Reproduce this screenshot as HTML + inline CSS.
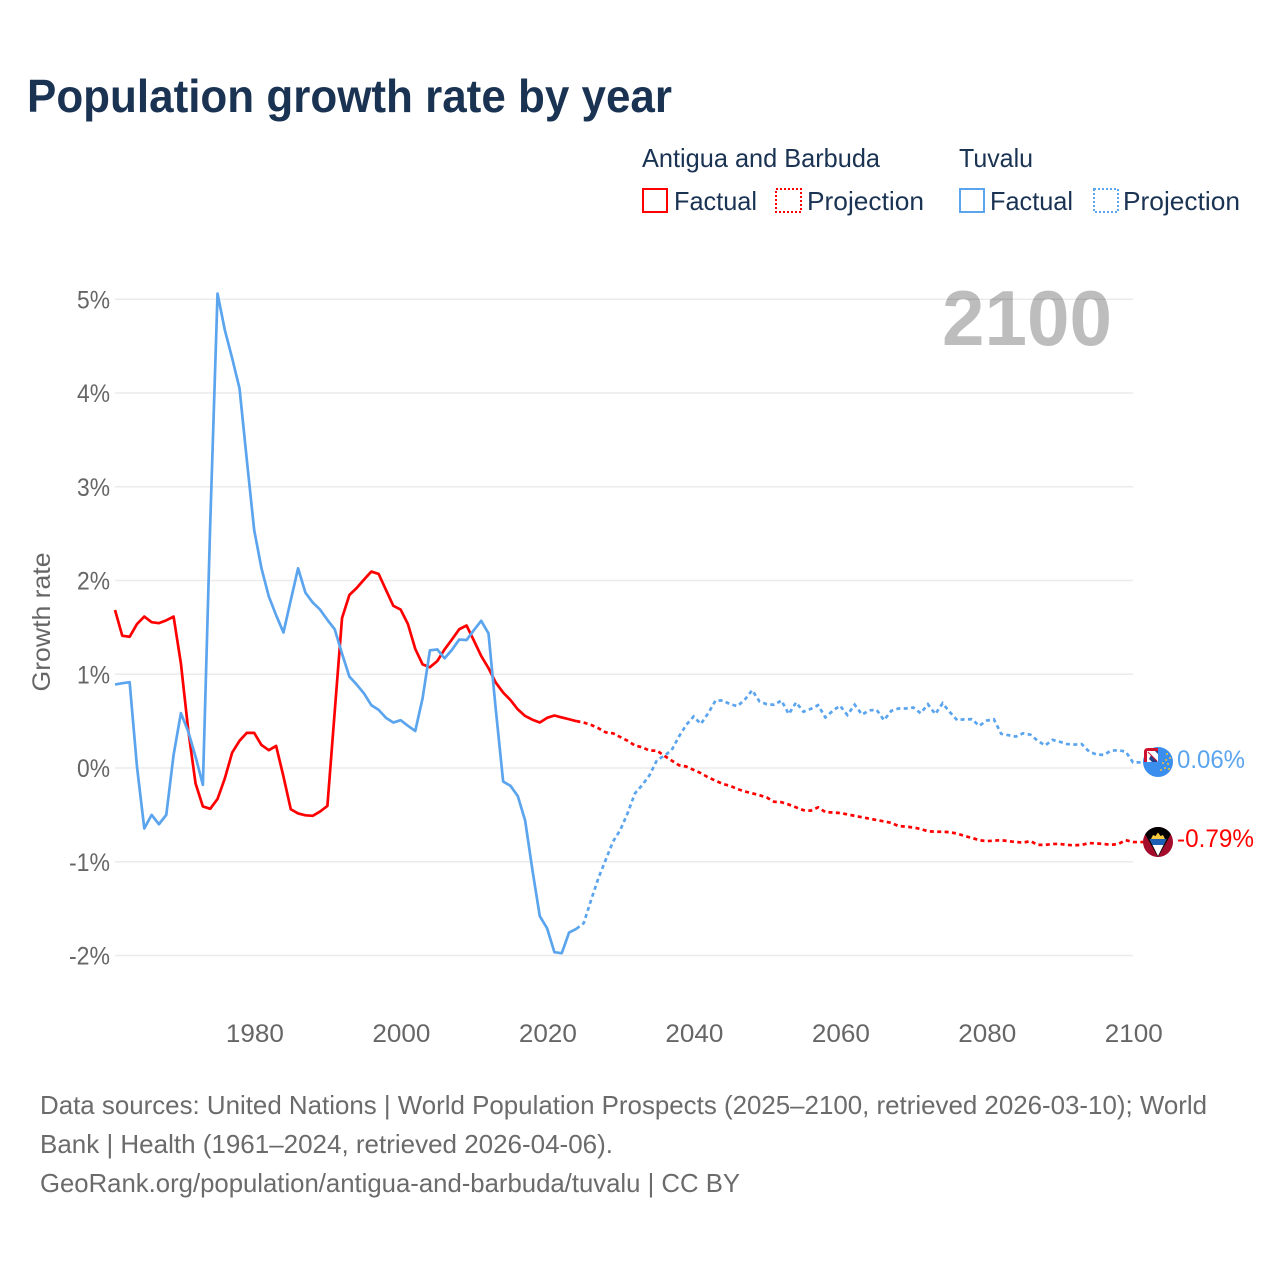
<!DOCTYPE html>
<html lang="en">
<head>
<meta charset="utf-8">
<title>Population growth rate by year</title>
<style>
html,body{margin:0;padding:0;background:#fff;width:1280px;height:1280px;overflow:hidden}
svg{display:block;font-family:"Liberation Sans",sans-serif}
</style>
</head>
<body>
<svg id="chart" xmlns="http://www.w3.org/2000/svg" width="1280" height="1280" viewBox="0 0 1280 1280">
  <defs>
    <clipPath id="clip-tv"><circle cx="1158" cy="762" r="15"/></clipPath>
    <clipPath id="clip-ag"><circle cx="1158" cy="842" r="15"/></clipPath>
  </defs>
  <text x="27" y="112" font-size="46" font-weight="700" fill="#1a3353" textLength="645" lengthAdjust="spacingAndGlyphs">Population growth rate by year</text>

  <g font-size="26" fill="#1a3353">
    <text x="642" y="167" textLength="238" lengthAdjust="spacingAndGlyphs">Antigua and Barbuda</text>
    <text x="959" y="167" textLength="74" lengthAdjust="spacingAndGlyphs">Tuvalu</text>
    <rect x="643" y="189" width="24" height="23" fill="none" stroke="#ff0000" stroke-width="2"/>
    <text x="674" y="210" textLength="83" lengthAdjust="spacingAndGlyphs">Factual</text>
    <rect x="776" y="189" width="25" height="23" fill="none" stroke="#ff0000" stroke-width="2" stroke-dasharray="2 2"/>
    <text x="807" y="210" textLength="117" lengthAdjust="spacingAndGlyphs">Projection</text>
    <rect x="960" y="189" width="24" height="23" fill="none" stroke="#5ba4ee" stroke-width="2"/>
    <text x="990" y="210" textLength="83" lengthAdjust="spacingAndGlyphs">Factual</text>
    <rect x="1094" y="189" width="24" height="23" fill="none" stroke="#5ba4ee" stroke-width="2" stroke-dasharray="2 2"/>
    <text x="1123" y="210" textLength="117" lengthAdjust="spacingAndGlyphs">Projection</text>
  </g>

  <g id="grid"></g>
  <g id="yticks"></g>
  <g id="xticks"></g>

  <text x="942" y="345" font-size="78" font-weight="700" fill="#000000" fill-opacity="0.26" textLength="170" lengthAdjust="spacingAndGlyphs">2100</text>
  <text transform="translate(50,622) rotate(-90)" text-anchor="middle" font-size="25" fill="#666666" textLength="139" lengthAdjust="spacingAndGlyphs">Growth rate</text>

  <g id="series"></g>

  <g>
    <g clip-path="url(#clip-tv)">
      <rect x="1143" y="747" width="30" height="30" fill="#3a8eed"/>
    </g>
    <path d="M1158 762 H1144 V752 Q1144 748 1148 748 H1158 Z" fill="#d0122f"/>
    <rect x="1147" y="751" width="11" height="11" fill="#fff"/>
    <path d="M1151 755 L1158 762 H1152 L1149 759 Z M1155 751 H1158 V754 Z" fill="#27408b"/>
    <path d="M1148 752 L1157 761" stroke="#d0122f" stroke-width="0.9"/>
    <g fill="#f2c230">
      <circle cx="1167" cy="754" r="1"/><circle cx="1170" cy="758" r="1"/><circle cx="1166" cy="760" r="1"/>
      <circle cx="1163" cy="763" r="1"/><circle cx="1168" cy="764" r="1"/><circle cx="1165" cy="768" r="1"/>
      <circle cx="1161" cy="770" r="1"/><circle cx="1169" cy="769" r="1"/>
    </g>
  </g>
  <g clip-path="url(#clip-ag)">
    <rect x="1143" y="827" width="30" height="30" fill="#a40c2c"/>
    <path d="M1141 827 H1175 L1158 857 Z" fill="#000"/>
    <path d="M1149.5 839 H1166.5 L1158 856 Z" fill="#fff"/>
    <path d="M1149.5 839 H1166.5 L1163.5 845 H1152.5 Z" fill="#1d5fb4"/>
    <path d="M1151 839 L1153 835 L1155.5 836 L1158 832.5 L1160.5 836 L1163 835 L1165 839 Z" fill="#f6c840"/>
  </g>
  <text x="1177" y="768" font-size="25" fill="#5ba4ee" textLength="68" lengthAdjust="spacingAndGlyphs">0.06%</text>
  <text x="1177" y="847" font-size="25" fill="#ff0000" textLength="77" lengthAdjust="spacingAndGlyphs">-0.79%</text>

  <g font-size="26" fill="#6b6b6b">
    <text x="40" y="1114" textLength="1167" lengthAdjust="spacingAndGlyphs">Data sources: United Nations | World Population Prospects (2025–2100, retrieved 2026-03-10); World</text>
    <text x="40" y="1153" textLength="573" lengthAdjust="spacingAndGlyphs">Bank | Health (1961–2024, retrieved 2026-04-06).</text>
    <text x="40" y="1192" textLength="700" lengthAdjust="spacingAndGlyphs">GeoRank.org/population/antigua-and-barbuda/tuvalu | CC BY</text>
  </g>
</svg>
<script>
const startYear = 1961;
const lastFactualYear = 2024;
const yTickValues = [5, 4, 3, 2, 1, 0, -1, -2];
const xTickYears = [1980, 2000, 2020, 2040, 2060, 2080, 2100];

const antiguaValues = [
  1.685,1.41,1.40,1.535,1.615,1.555,1.545,1.575,1.615,1.115,
  0.405,-0.165,-0.41,-0.435,-0.33,-0.11,0.165,0.29,0.375,0.375,
  0.245,0.19,0.235,-0.09,-0.44,-0.485,-0.505,-0.51,-0.465,-0.405,
  0.6,1.60,1.845,1.92,2.01,2.095,2.07,1.90,1.73,1.69,
  1.535,1.27,1.105,1.075,1.14,1.265,1.37,1.48,1.52,1.36,
  1.195,1.065,0.91,0.805,0.725,0.625,0.555,0.515,0.485,0.535,
  0.56,0.54,0.52,0.50,
  0.485,0.46,0.425,0.38,0.37,0.33,0.29,0.24,0.22,0.185,
  0.185,0.13,0.08,0.03,0.015,-0.02,-0.055,-0.10,-0.135,-0.17,
  -0.19,-0.225,-0.25,-0.27,-0.29,-0.315,-0.36,-0.365,-0.39,-0.42,
  -0.45,-0.455,-0.42,-0.47,-0.475,-0.48,-0.495,-0.51,-0.525,-0.54,
  -0.555,-0.57,-0.585,-0.62,-0.625,-0.635,-0.65,-0.675,-0.68,-0.68,
  -0.685,-0.70,-0.725,-0.745,-0.77,-0.78,-0.775,-0.77,-0.78,-0.79,
  -0.795,-0.78,-0.82,-0.82,-0.81,-0.81,-0.82,-0.825,-0.82,-0.80,
  -0.805,-0.81,-0.82,-0.81,-0.77,-0.79
];

const tuvaluValues = [
  0.89,0.905,0.915,0.015,-0.645,-0.50,-0.60,-0.50,0.14,0.585,
  0.39,0.12,-0.18,2.6,5.06,4.67,4.37,4.05,3.285,2.54,
  2.13,1.83,1.63,1.445,1.79,2.13,1.87,1.765,1.69,1.58,
  1.48,1.22,0.975,0.89,0.795,0.67,0.62,0.535,0.485,0.51,
  0.45,0.395,0.745,1.255,1.265,1.17,1.26,1.37,1.365,1.47,
  1.57,1.435,0.62,-0.145,-0.19,-0.30,-0.56,-1.09,-1.58,-1.71,
  -1.965,-1.975,-1.755,-1.715,
  -1.655,-1.41,-1.175,-0.98,-0.785,-0.66,-0.48,-0.27,-0.18,-0.075,
  0.085,0.13,0.19,0.335,0.46,0.55,0.47,0.585,0.72,0.72,
  0.68,0.66,0.73,0.83,0.71,0.68,0.675,0.72,0.575,0.70,
  0.60,0.63,0.67,0.54,0.61,0.665,0.565,0.675,0.57,0.615,
  0.62,0.51,0.61,0.635,0.635,0.645,0.585,0.68,0.575,0.69,
  0.595,0.51,0.52,0.52,0.45,0.505,0.52,0.365,0.35,0.335,
  0.37,0.355,0.29,0.24,0.30,0.28,0.255,0.25,0.255,0.175,
  0.145,0.14,0.185,0.19,0.175,0.06
];

const NS = 'http://www.w3.org/2000/svg';
function xScale(year) { return 115 + (year - 1961) * (1133 - 115) / 139; }
function yScale(v) { return 768 - v * 93.75; }
function node(tag, attrs) {
  const el = document.createElementNS(NS, tag);
  for (const k in attrs) el.setAttribute(k, attrs[k]);
  return el;
}

const gridG = document.getElementById('grid');
const yG = document.getElementById('yticks');
yTickValues.forEach(function (v) {
  const line = node('line', { x1: 115, x2: 1133, y1: yScale(v), y2: yScale(v), stroke: '#ebebeb', 'stroke-width': 1.5 });
  
  
  gridG.appendChild(line);
  const t = node('text', { x: 110, y: yScale(v) + 9, 'text-anchor': 'end', 'font-size': 25, fill: '#666666', textLength: v < 0 ? 41 : 33, lengthAdjust: 'spacingAndGlyphs' });
  
  
  t.textContent = v + '%';
  yG.appendChild(t);
});

const xG = document.getElementById('xticks');
xTickYears.forEach(function (year) {
  const t = node('text', { x: xScale(year) + 0.8, y: 1042, 'text-anchor': 'middle', 'font-size': 25, fill: '#666666', textLength: 58, lengthAdjust: 'spacingAndGlyphs' });
  
  
  t.textContent = year;
  xG.appendChild(t);
});

function pointsFor(values, from, to) {
  const pts = [];
  values.forEach(function (v, i) {
    const year = startYear + i;
    if (year >= from && year <= to) pts.push(xScale(year).toFixed(2) + ',' + yScale(v).toFixed(2));
  });
  return pts.join(' ');
}

const seriesG = document.getElementById('series');
function drawSeries(values, color) {
  const lastYear = startYear + values.length - 1;
  const factual = node('polyline', { points: pointsFor(values, startYear, lastFactualYear), fill: 'none', stroke: color, 'stroke-width': 2.7, 'stroke-linejoin': 'round' });
  
  
  seriesG.appendChild(factual);
  const proj = node('polyline', { points: pointsFor(values, lastFactualYear, lastYear) + ' 1145,' + yScale(values[values.length - 1]).toFixed(2), fill: 'none', stroke: color, 'stroke-width': 2.7, 'stroke-dasharray': '4 3.4' });
  
  
  seriesG.appendChild(proj);
}
drawSeries(antiguaValues, '#ff0000');
drawSeries(tuvaluValues, '#5ba4ee');
</script>
</body>
</html>
